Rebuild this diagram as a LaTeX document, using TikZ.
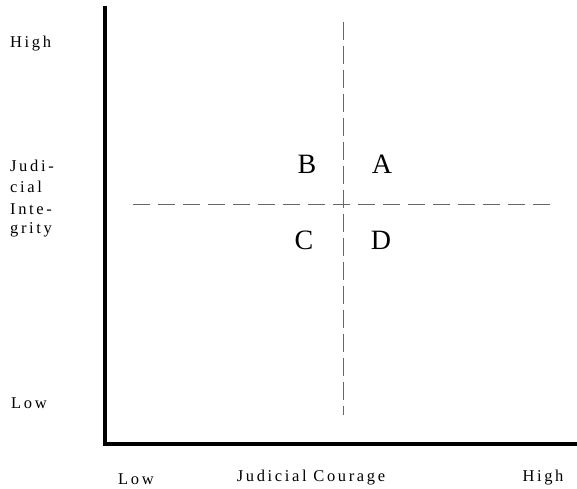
\documentclass[tikz,border=0pt]{standalone}
\usepackage{fontspec}
\setmainfont{Liberation Serif}
\newfontfamily\spacedfont[LetterSpace=16]{Liberation Serif}
\begin{document}
\begin{tikzpicture}[x=1pt,y=-1pt,
  axis/.style={line width=3.2pt,line cap=rect,line join=miter},
  divider/.style={line width=0.8pt,black!60},
  lab/.style={font=\spacedfont\fontsize{16.5}{18}\selectfont,inner sep=0pt},
  quad/.style={font=\fontsize{28}{30}\selectfont,inner sep=0pt}]
\useasboundingbox (0,0) rectangle (577,488);
\coordinate (top) at (105,8);
\coordinate (origin) at (105,444);
\coordinate (right) at (577,444);
\draw[axis] (top) -- (origin) -- (right);
\coordinate (vt) at (343,22);
\coordinate (vb) at (343,415);
\coordinate (hl) at (133,204);
\coordinate (hr) at (552,204);
\draw[divider,dash pattern=on 18pt off 6pt] (vt) -- (vb);
\draw[divider,dash pattern=on 17pt off 8pt] (hl) -- (hr);
\node[quad] (B) at (307,164) {B};
\node[quad] (A) at (382,164) {A};
\node[quad] (C) at (304,240) {C};
\node[quad] (D) at (381,240) {D};
\node[lab,anchor=west] (yh) at (10,44) {High};
\node[lab,anchor=west] (y1) at (10,166) {Judi-};
\node[lab,anchor=west] (y2) at (10,187) {cial};
\node[lab,anchor=west] (y3) at (10,209) {Inte-};
\node[lab,anchor=west] (y4) at (10,230) {grity};
\node[lab,anchor=west] (yl) at (11,403) {Low};
\node[lab] (xl) at (136,479) {Low};
\node[lab] (xt) at (311,478) {Judicial Courage};
\node[lab] (xh) at (543,478) {High};
\end{tikzpicture}
\end{document}
